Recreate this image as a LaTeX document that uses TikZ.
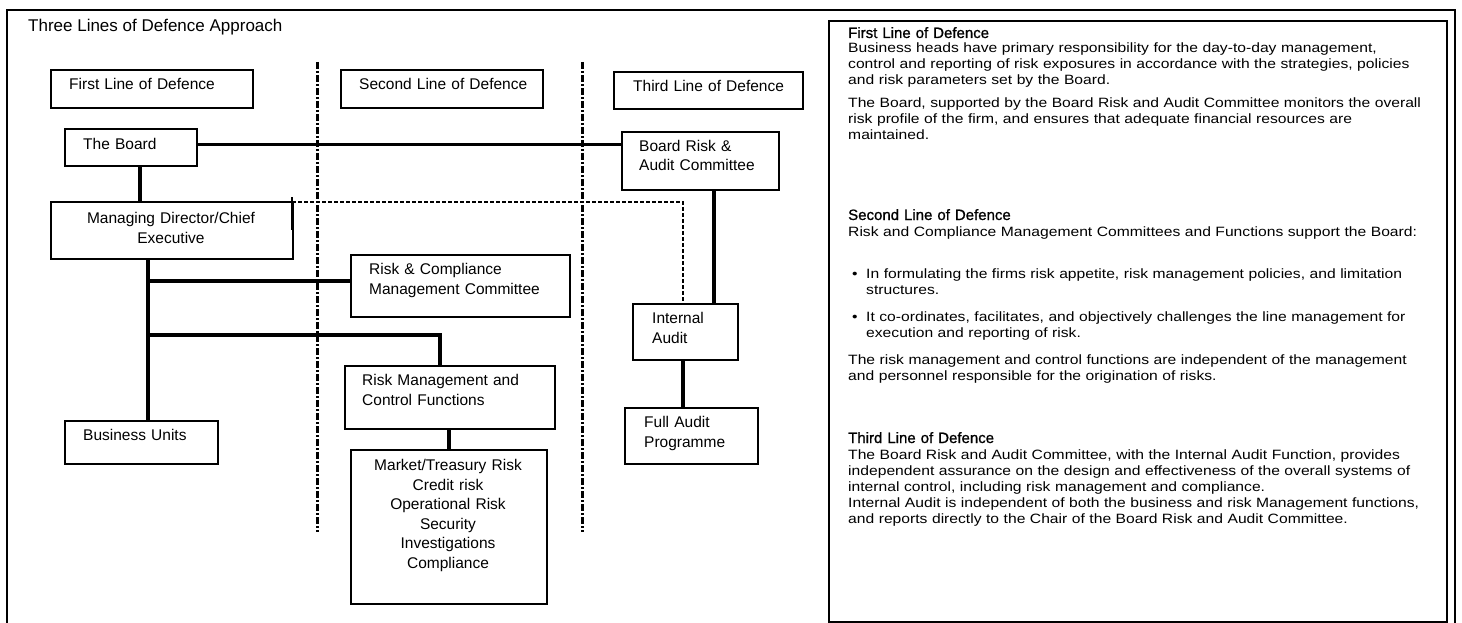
\documentclass[tikz,border=0pt]{standalone}
\usepackage{fontspec}
\setmainfont{Liberation Sans}
\newfontfamily\bodyfont[FakeStretch=1.16]{Liberation Sans}
\newfontfamily\headfont[FakeBold=1]{Liberation Sans}
\begin{document}
\begin{tikzpicture}[x=1pt,y=-1pt,
  box/.style={draw, line width=1.7pt, inner sep=0pt, anchor=north west},
  lbl/.style={anchor=base west, inner sep=0pt, align=left, text width=240pt, font=\fontsize{15.5}{19.5}\selectfont},
  clbl/.style={anchor=base, inner sep=0pt, align=center, text width=220pt, font=\fontsize{15.5}{19.6}\selectfont},
  conn/.style={line width=3.4pt},
  divider/.style={line width=3pt, dash pattern=on 7pt off 2pt on 2pt off 2pt},
  dlink/.style={line width=1.1pt, dash pattern=on 4pt off 2pt},
  rhead/.style={anchor=base west, inner sep=0pt, align=left, text width=600pt, font=\headfont\fontsize{15}{17}\selectfont},
  rtext/.style={anchor=base west, inner sep=0pt, align=left, text width=600pt, font=\bodyfont\fontsize{13.5}{16}\selectfont},
  frame/.style={line width=2.2pt}
]
\useasboundingbox (0,0) rectangle (1462,623);
\fill[white] (0,0) rectangle (1462,623);

% outer frame
\draw[frame] (7,640) -- (7,10) -- (1455,10) -- (1455,640);

% title
\node[anchor=base west, inner sep=0pt, font=\fontsize{17}{20}\selectfont] (title) at (28,32) {Three Lines of Defence Approach};

% dividers
\draw[divider] (317,62) -- (317,532);
\draw[divider] (582,62) -- (582,532);

% header boxes
\node[box, minimum width=202pt, minimum height=38pt] (fl) at (50,69) {};
\node[lbl] (flt) at (69,90) {First Line of Defence};
\node[box, minimum width=202pt, minimum height=38pt] (sl) at (340,69) {};
\node[lbl] (slt) at (359,90) {Second Line of Defence};
\node[box, minimum width=189pt, minimum height=37pt] (tl) at (613,71) {};
\node[lbl] (tlt) at (633,91.5) {Third Line of Defence};

% first line
\node[box, minimum width=132pt, minimum height=37pt] (board) at (64,128) {};
\node[lbl] (boardt) at (83,149.5) {The Board};
\node[box, minimum width=242pt, minimum height=57pt] (md) at (50,201) {};
\node[clbl] (mdt) at (171,223.5) {Managing Director/Chief\\Executive};
\node[box, minimum width=153pt, minimum height=43pt] (bu) at (64,420) {};
\node[lbl] (but) at (83,440.5) {Business Units};

% second line
\node[box, minimum width=219pt, minimum height=62pt] (rc) at (350,254) {};
\node[lbl] (rct) at (369,274.5) {Risk \& Compliance\\Management Committee};
\node[box, minimum width=210pt, minimum height=63pt] (rm) at (344,365) {};
\node[lbl] (rmt) at (362,385.5) {Risk Management and\\Control Functions};
\node[box, minimum width=196pt, minimum height=154pt] (mk) at (350,449) {};
\node[clbl] (mkt) at (448,470.5) {Market/Treasury Risk\\Credit risk\\Operational Risk\\Security\\Investigations\\Compliance};

% third line
\node[box, minimum width=157pt, minimum height=58pt] (bra) at (621,131) {};
\node[lbl] (brat) at (639,151.5) {Board Risk \&\\Audit Committee};
\node[box, minimum width=105pt, minimum height=56pt] (ia) at (632,303) {};
\node[lbl] (iat) at (652,323.5) {Internal\\Audit};
\node[box, minimum width=133pt, minimum height=56pt] (fa) at (624,407) {};
\node[lbl] (fat) at (644,427.5) {Full Audit\\Programme};

% junction coordinates
\coordinate (j1) at (148,281);
\coordinate (j2) at (148,335);
\coordinate (j3) at (440,335);
\coordinate (jb) at (140,0);
\coordinate (ja) at (714,0);
\coordinate (jd) at (683,202);
\coordinate (jm) at (292,202);

% connectors
\draw[conn] ([yshift=3pt]board.east) -- ([yshift=3pt]board.east -| bra.west);
\draw[conn] (board.south -| jb) -- (md.north -| jb);
\draw[conn] (md.south -| j1) -- (bu.north -| j1);
\draw[conn] (j1) -- (j1 -| rc.west);
\draw[conn] (j2) -- (j3) -- (j3 |- rm.north);
\draw[conn] (rm.south -| mk.north) -- (mk.north);
\draw[conn] (bra.south -| ja) -- (ia.north -| ja);
\draw[conn] (ia.south -| jd) -- (fa.north -| jd);
\draw[dlink] (jm) -- (jd) -- (ia.north -| jd);
\draw[line width=2.2pt] ([yshift=5pt]jm) -- ([yshift=-28pt]jm);

% right description box
\node[box, line width=2.2pt, minimum width=618pt, minimum height=601pt] (rbox) at (828,20) {};
\node[rhead] (h1) at (848,38) {First Line of Defence};
\node[rtext] (p1) at (848,53) {Business heads have primary responsibility for the day-to-day management,\\control and reporting of risk exposures in accordance with the strategies, policies\\and risk parameters set by the Board.};
\node[rtext] (p2) at (848,108) {The Board, supported by the Board Risk and Audit Committee monitors the overall\\risk profile of the firm, and ensures that adequate financial resources are\\maintained.};
\node[rhead] (h2) at (848,220) {Second Line of Defence};
\node[rtext] (p3) at (848,236) {Risk and Compliance Management Committees and Functions support the Board:};
\node[rtext, text width=20pt] (b1d) at (852,278) {•};
\node[rtext, text width=580pt] (b1) at (866,278) {In formulating the firms risk appetite, risk management policies, and limitation\\structures.};
\node[rtext, text width=20pt] (b2d) at (852,321) {•};
\node[rtext, text width=580pt] (b2) at (866,321) {It co-ordinates, facilitates, and objectively challenges the line management for\\execution and reporting of risk.};
\node[rtext] (p4) at (848,364) {The risk management and control functions are independent of the management\\and personnel responsible for the origination of risks.};
\node[rhead] (h3) at (848,443) {Third Line of Defence};
\node[rtext] (p5) at (848,459) {The Board Risk and Audit Committee, with the Internal Audit Function, provides\\independent assurance on the design and effectiveness of the overall systems of\\internal control, including risk management and compliance.\\Internal Audit is independent of both the business and risk Management functions,\\and reports directly to the Chair of the Board Risk and Audit Committee.};
\end{tikzpicture}
\end{document}
